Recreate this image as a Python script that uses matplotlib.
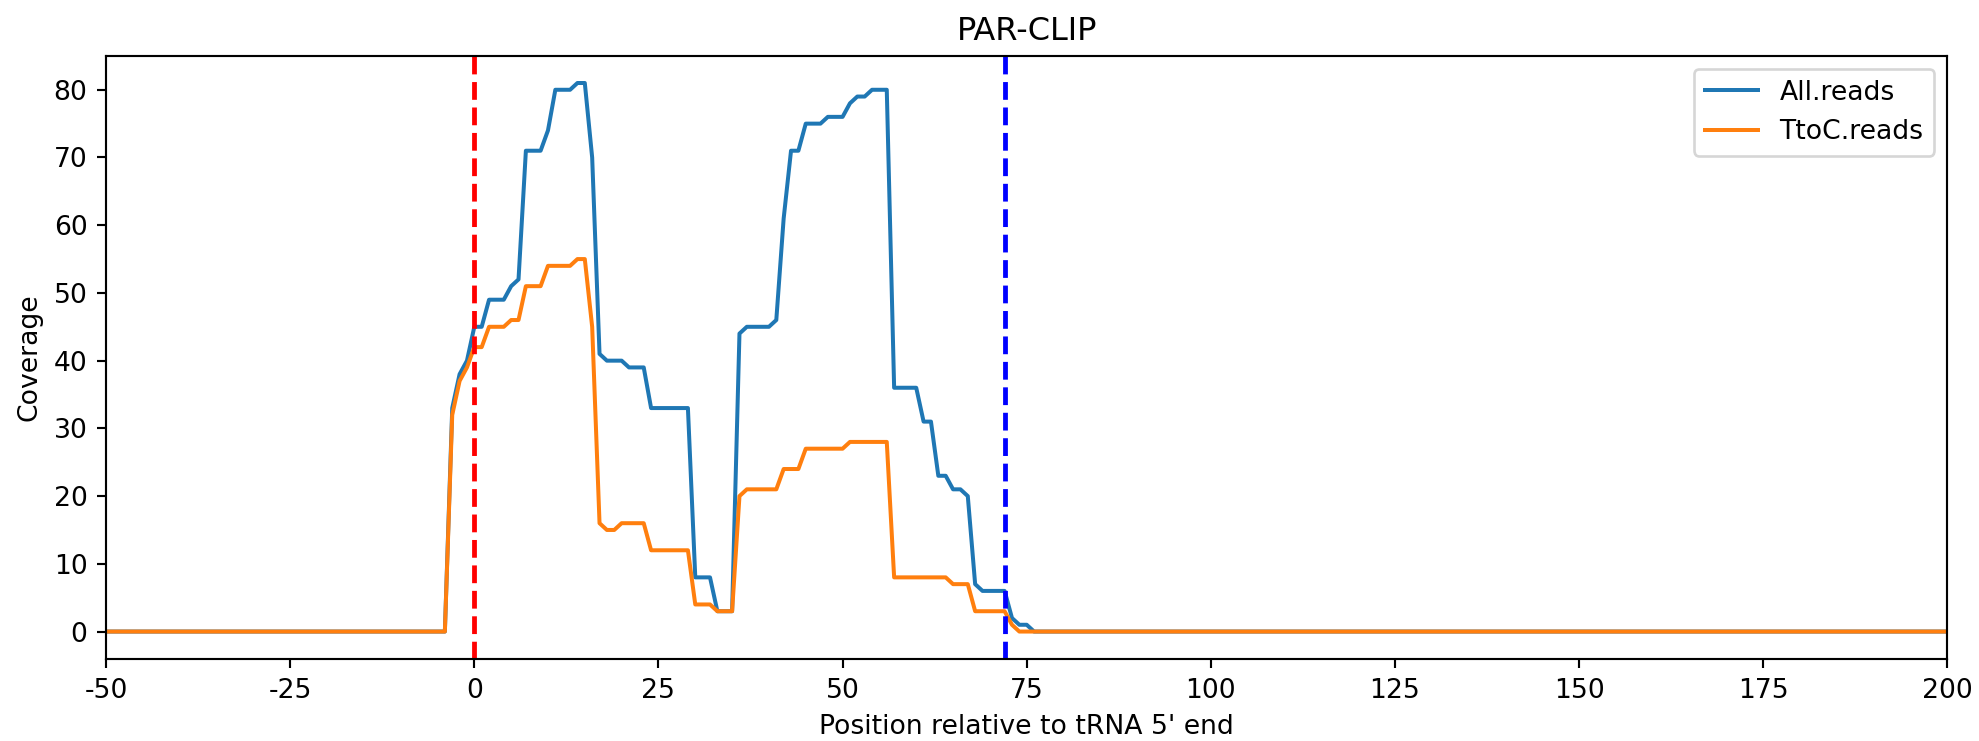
import numpy as np
import matplotlib
matplotlib.use("Agg")
import matplotlib.pyplot as plt

# positions with non-zero coverage region (-4 .. 76); all other positions in [-50, 200] are 0
region_start = -4
all_reads_region = [0, 33, 38, 40, 45, 45, 49, 49, 49, 51, 52, 71, 71, 71, 74, 80, 80, 80, 81, 81,
                    70, 41, 40, 40, 40, 39, 39, 39, 33, 33, 33, 33, 33, 33, 8, 8, 8, 3, 3, 3,
                    44, 45, 45, 45, 45, 46, 61, 71, 71, 75, 75, 75, 76, 76, 76, 78, 79, 79, 80, 80,
                    80, 36, 36, 36, 36, 31, 31, 23, 23, 21, 21, 20, 7, 6, 6, 6, 6, 2, 1, 1, 0]
ttoc_reads_region = [0, 32, 37, 39, 42, 42, 45, 45, 45, 46, 46, 51, 51, 51, 54, 54, 54, 54, 55, 55,
                     45, 16, 15, 15, 16, 16, 16, 16, 12, 12, 12, 12, 12, 12, 4, 4, 4, 3, 3, 3,
                     20, 21, 21, 21, 21, 21, 24, 24, 24, 27, 27, 27, 27, 27, 27, 28, 28, 28, 28, 28,
                     28, 8, 8, 8, 8, 8, 8, 8, 8, 7, 7, 7, 3, 3, 3, 3, 3, 1, 0, 0, 0]

positions = np.arange(-50, 201)
all_reads = np.zeros(len(positions))
ttoc_reads = np.zeros(len(positions))
i0 = region_start - positions[0]
all_reads[i0:i0 + len(all_reads_region)] = all_reads_region
ttoc_reads[i0:i0 + len(ttoc_reads_region)] = ttoc_reads_region

xticks = [-50, -25, 0, 25, 50, 75, 100, 125, 150, 175, 200]
yticks = [0, 10, 20, 30, 40, 50, 60, 70, 80]
trna_start = 0
trna_end = 72

DPI = 192
fig = plt.figure(figsize=(1979 / DPI, 741 / DPI), dpi=DPI)
ax = fig.add_axes([0.0536, 0.1107, 0.984 - 0.0536, 0.925 - 0.1107])

ax.plot(positions, all_reads, color="#1f77b4", lw=1.5, label="All.reads")
ax.plot(positions, ttoc_reads, color="#ff7f0e", lw=1.5, label="TtoC.reads")
ax.axvline(trna_start, color="red", ls="--", lw=1.8)
ax.axvline(trna_end, color="blue", ls="--", lw=1.8)

ax.set_xlim(-50, 200)
ax.set_xticks(xticks)
ax.set_xticklabels([str(t) for t in xticks])
ax.set_yticks(yticks)
ax.set_title("PAR-CLIP")
ax.set_xlabel("Position relative to tRNA 5' end")
ax.set_ylabel("Coverage")
ax.legend(loc="upper right")

fig.savefig("out.png", dpi=DPI)
